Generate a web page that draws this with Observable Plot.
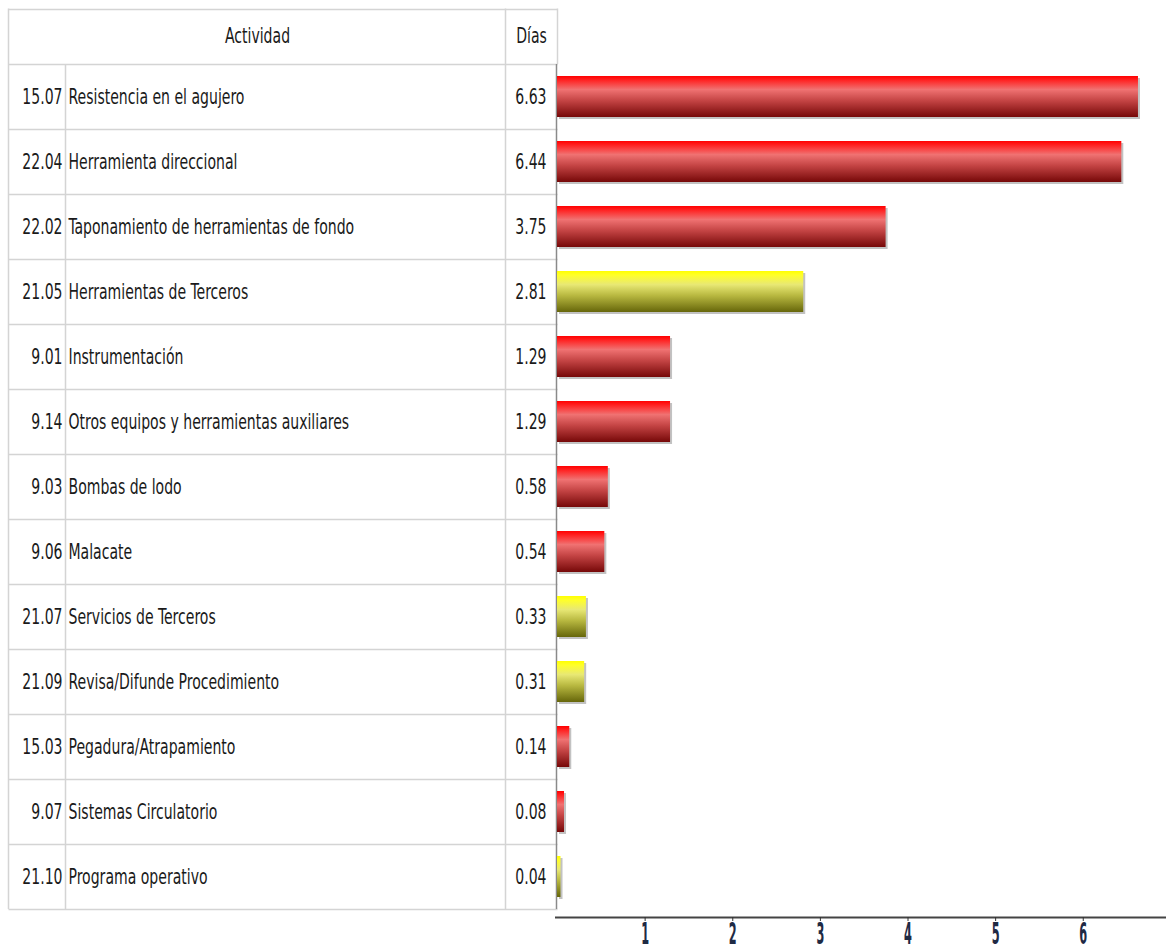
<!DOCTYPE html>
<html><head><meta charset="utf-8">
<script src="https://cdn.jsdelivr.net/npm/d3@7"></script>
<script src="https://cdn.jsdelivr.net/npm/@observablehq/plot@0.6"></script>
<style>body{margin:0;background:#fff;}</style>
</head><body><div id="chart"></div>
<script>
const codes = ["15.07","22.04","22.02","21.05","9.01","9.14","9.03","9.06","21.07","21.09","15.03","9.07","21.10"];
const activities = ["Resistencia en el agujero","Herramienta direccional","Taponamiento de herramientas de fondo","Herramientas de Terceros","Instrumentación","Otros equipos y herramientas auxiliares","Bombas de lodo","Malacate","Servicios de Terceros","Revisa/Difunde Procedimiento","Pegadura/Atrapamiento","Sistemas Circulatorio","Programa operativo"];
const days = [6.63,6.44,3.75,2.81,1.29,1.29,0.58,0.54,0.33,0.31,0.14,0.08,0.04];
const groups = ["r","r","r","y","r","r","r","r","y","y","r","r","y"];
const headers = ["Actividad","Días"];
const xTicks = [1,2,3,4,5,6];

const rows = codes.map((c,i)=>({code:c, activity:activities[i], days:days[i], group:groups[i], key:c+" "+activities[i]}));
const yDomain = rows.map(d=>d.key);
const FONT = "'Liberation Sans Narrow','DejaVu Sans Condensed',sans-serif";
const PI = 0.37;

function gradients() {
  const defs = d3.create("svg:defs");
  const mk = (id, stops) => {
    const g = defs.append("linearGradient").attr("id", id).attr("x1",0).attr("x2",0).attr("y1",0).attr("y2",1);
    stops.forEach(([o,c]) => g.append("stop").attr("offset", o).attr("stop-color", c));
  };
  mk("gr", [[0,"#ff0000"],[0.1,"#ff2222"],[0.33,"#f07272"],[0.6,"#c44444"],[1,"#760808"]]);
  mk("gy", [[0,"#ffff00"],[0.1,"#ffff2a"],[0.33,"#e8e874"],[0.6,"#b8b840"],[1,"#66660a"]]);
  return defs.node();
}

function tableGrid(index, scales, values, dim) {
  const y = scales.y;
  const step = y(yDomain[1]) - y(yDomain[0]);
  const bw = step * (1 - PI);
  const tops = yDomain.map(k => y(k) - (step - bw) / 2);
  const bottom = tops[tops.length - 1] + step;
  const left = 8.5, c1 = 65.5, c2 = 505.5, right = dim.marginLeft + 0.5, headerTop = 8.5;
  const g = d3.create("svg:g");
  [headerTop, ...tops, bottom].forEach(v => {
    const yy = Math.round(v) + 0.5;
    g.append("line").attr("x1", left).attr("x2", right).attr("y1", yy).attr("y2", yy).attr("stroke", "#d4d4d4").attr("stroke-width", 1.5);
  });
  const vline = (x, y1, y2, c) => g.append("line").attr("x1", x).attr("x2", x).attr("y1", y1).attr("y2", y2).attr("stroke", c).attr("stroke-width", 1.5);
  vline(left, headerTop, bottom, "#d4d4d4");
  vline(c1, tops[0], bottom, "#d4d4d4");
  vline(c2, headerTop, bottom, "#d4d4d4");
  vline(right, headerTop, tops[0], "#d4d4d4");
  vline(right - 1, tops[0], bottom, "#8a8a8a");
  const ay = dim.height - dim.marginBottom + 0.5;
  g.append("line").attr("x1", dim.marginLeft - 2).attr("x2", dim.width).attr("y1", ay).attr("y2", ay).attr("stroke", "#444").attr("stroke-width", 2);
  return g.node();
}

const plot = Plot.plot({
  width: 1166, height: 949,
  marginLeft: 557, marginRight: 0, marginTop: 62, marginBottom: 32,
  x: {domain: [0, 6.95], axis: null},
  y: {domain: yDomain, range: [62, 910], paddingInner: PI, paddingOuter: PI / 2, axis: null},
  style: {fontFamily: FONT, background: "#fff", color: "#1a1a1a"},
  marks: [
    gradients,
    tableGrid,
    Plot.barX(rows, {x: "days", y: "key", fill: "#9a9a9a", fillOpacity: 0.6, dx: 2, dy: 2}),
    Plot.barX(rows.filter(d => d.group === "r"), {x: "days", y: "key", fill: "url(#gr)"}),
    Plot.barX(rows.filter(d => d.group === "y"), {x: "days", y: "key", fill: "url(#gy)"}),
    Plot.text(rows, {y: "key", text: "code", frameAnchor: "left", dx: -495, textAnchor: "end", fontSize: 22}),
    Plot.text(rows, {y: "key", text: "activity", frameAnchor: "left", dx: -489, textAnchor: "start", fontSize: 22}),
    Plot.text(rows, {y: "key", text: d => d.days.toFixed(2), frameAnchor: "left", dx: -11, textAnchor: "end", fontSize: 22}),
    Plot.text([headers[0]], {text: d => d, frameAnchor: "top-left", dx: -300, dy: -27, lineAnchor: "middle", textAnchor: "middle", fontSize: 22}),
    Plot.text([headers[1]], {text: d => d, frameAnchor: "top-left", dx: -26, dy: -27, lineAnchor: "middle", textAnchor: "middle", fontSize: 22}),
    Plot.axisX({ticks: xTicks, tickFormat: d => String(d), label: null, tickSize: 4, tickPadding: 1, fontSize: 30, fontWeight: "bold", fill: "#1f2a44", stroke: "#333"})
  ]
});

function squeeze(sel, sx) {
  d3.select(plot).selectAll(sel).each(function() {
    const xa = this.getAttribute("x");
    const x = xa != null && !isNaN(+xa) ? +xa : 0;
    if (xa != null && !isNaN(+xa)) this.removeAttribute("x");
    const t = this.getAttribute("transform") || "";
    this.setAttribute("transform", `${t} translate(${x},0) scale(${sx},1)`);
  });
}
squeeze('g[aria-label="text"] text', 0.71);
squeeze('g[aria-label="x-axis tick label"] text', 0.42);
document.getElementById("chart").appendChild(plot);
</script>
</body></html>
